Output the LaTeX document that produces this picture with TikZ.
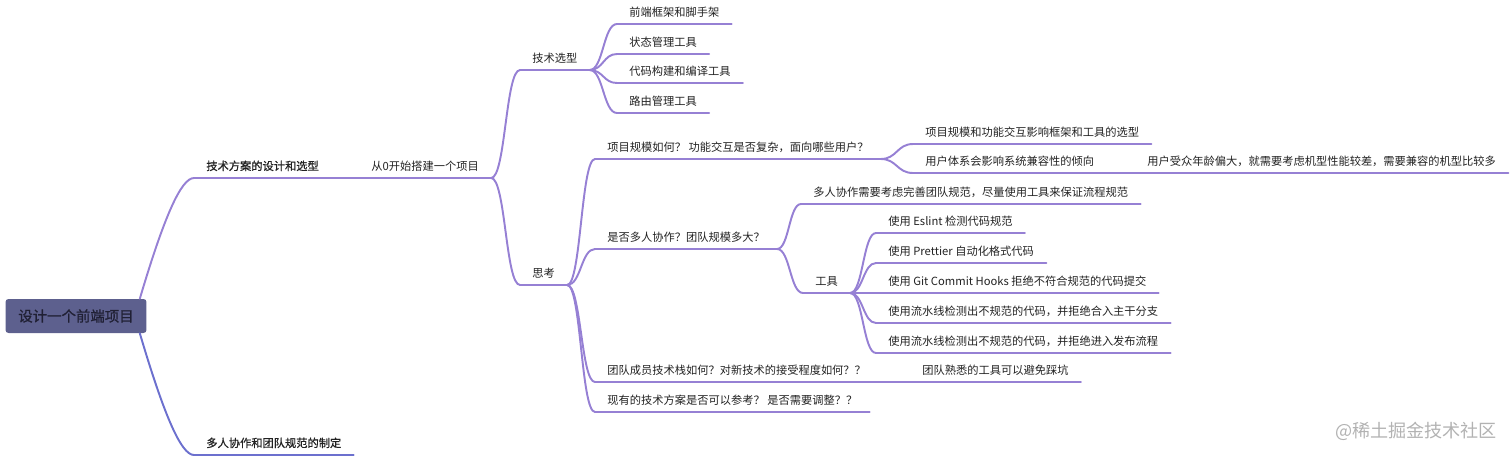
\documentclass[tikz,border=0pt]{standalone}
\usepackage{fontspec}
\setmainfont{Noto Sans CJK SC}
\newfontfamily\boldcjk{Noto Sans CJK SC}[FakeBold=1]
\usepackage{tikz}
\usetikzlibrary{calc}
\definecolor{lavender}{RGB}{150,128,212}
\definecolor{periwinkle}{RGB}{108,112,206}
\definecolor{slate}{RGB}{93,96,142}
\definecolor{ink}{RGB}{34,34,34}
\definecolor{rootink}{RGB}{32,32,52}

\begin{document}
\begin{tikzpicture}[
    x=0.02cm, y=-0.02cm,
    root/.style={rectangle, rounded corners=0.06cm, fill=slate, minimum width=2.82cm, minimum height=0.68cm, font=\boldcjk\fontsize{8.2}{9}\selectfont, text=rootink},
    topic/.style={anchor=south west, inner xsep=0.24cm, inner ysep=0.11cm, text height=0.17cm, text depth=0.04cm, font=\fontsize{6.4}{7}\selectfont, text=ink},
    lead/.style={topic, font=\boldcjk\fontsize{6.4}{7}\selectfont},
    bar/.style={draw=lavender, line width=1.1pt, line cap=round},
    link/.style={to path={let \p1=(\tikztostart), \p2=(\tikztotarget) in
        .. controls ({0.5*\x1+0.5*\x2},\y1) and ({0.5*\x1+0.5*\x2},\y2) .. (\tikztotarget)}}
]
\useasboundingbox (0,0) rectangle (1512,457);

% centre
\node[root] (root) at (76,316) {设计一个前端项目};

% first level
\node[lead] (plan) at (194,178) {技术方案的设计和选型};
\node[lead] (team) at (194,455) {多人协作和团队规范的制定};

% from scratch
\node[topic] (scratch) at (359,178) {从0开始搭建一个项目};
\node[topic] (select) at (520,70) {技术选型};
\node[topic] (think) at (520,285) {思考};

% tech selection
\node[topic] (frame) at (617,24) {前端框架和脚手架};
\node[topic] (state) at (617,54) {状态管理工具};
\node[topic] (build) at (617,83) {代码构建和编译工具};
\node[topic] (route) at (617,113) {路由管理工具};

% thinking
\node[topic] (scale) at (595,159) {项目规模如何？ 功能交互是否复杂，面向哪些用户？};
\node[topic] (multi) at (595,249) {是否多人协作？团队规模多大？};
\node[topic] (stack) at (595,382) {团队成员技术栈如何？对新技术的接受程度如何？？};
\node[topic] (reuse) at (595,412) {现有的技术方案是否可以参考？ 是否需要调整？？};

\node[topic] (scalesel) at (913,144) {项目规模和功能交互影响框架和工具的选型};
\node[topic] (compat) at (913,173) {用户体系会影响系统兼容性的倾向};
\node[topic] (elder) at (1135,173) {用户受众年龄偏大，就需要考虑机型性能较差，需要兼容的机型比较多};

\node[topic] (norm) at (801,204) {多人协作需要考虑完善团队规范，尽量使用工具来保证流程规范};
\node[topic] (tools) at (803,293) {工具};
\node[topic] (eslint) at (876,233) {使用 Eslint 检测代码规范};
\node[topic] (prettier) at (876,263) {使用 Prettier 自动化格式代码};
\node[topic] (hooks) at (876,293) {使用 Git Commit Hooks 拒绝不符合规范的代码提交};
\node[topic] (merge) at (876,323) {使用流水线检测出不规范的代码，并拒绝合入主干分支};
\node[topic] (release) at (876,353) {使用流水线检测出不规范的代码，并拒绝进入发布流程};

\node[topic] (known) at (910,382) {团队熟悉的工具可以避免踩坑};

% underlines
\foreach \n in {plan,scratch,select,think,frame,state,build,route,scale,multi,stack,reuse,
    scalesel,compat,elder,norm,tools,eslint,prettier,hooks,merge,release,known}
  \draw[bar] (\n.south west) -- (\n.south east);
\draw[bar, draw=periwinkle] (team.south west) -- (team.south east);

% branches
\draw[bar] ([xshift=-0.14cm]root.north east) .. controls +(24,-81) and +(-13,0) .. (plan.south west);
\draw[bar, draw=periwinkle] ([xshift=-0.14cm]root.south east) .. controls +(24,81) and +(-13,0) .. (team.south west);

\foreach \a/\b in {plan/scratch, scratch/select, scratch/think,
    select/frame, select/state, select/build, select/route,
    think/scale, think/multi, think/stack, think/reuse,
    scale/scalesel, scale/compat, compat/elder,
    multi/norm, multi/tools,
    tools/eslint, tools/prettier, tools/hooks, tools/merge, tools/release,
    stack/known}
  \draw[bar] (\a.south east) to[link] (\b.south west);

\node[font=\fontsize{10.3}{12}\selectfont, text=black!30] (stamp) at (1416,431) {@稀土掘金技术社区};
\end{tikzpicture}
\end{document}
